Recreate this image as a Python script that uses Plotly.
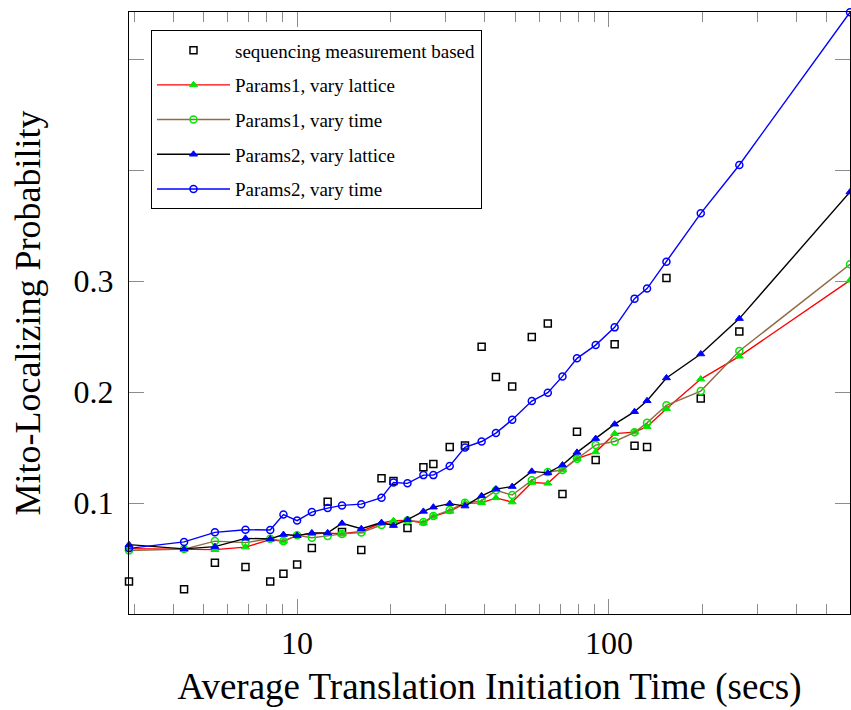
import plotly.graph_objects as go
import math

# Average translation initiation time (secs), shared by all series
init_time = [2.89, 4.34, 5.45, 6.83, 8.20, 9.04, 10.0, 11.15, 12.53, 13.93, 16.06,
             18.65, 20.37, 22.59, 25.41, 27.35, 30.86, 34.54, 39.06, 43.41, 48.95,
             56.57, 63.67, 70.95, 78.98, 90.67, 104.3, 120.8, 132.5, 152.9, 197.0,
             261.9, 593.0]

# Sequencing-measurement based probabilities (no value at the last time)
measured = [0.0294, 0.0222, 0.0463, 0.0423, 0.0294, 0.0363, 0.0447, 0.0596, 0.1013,
            0.0740, 0.0576, 0.1223, 0.1200, 0.0775, 0.1322, 0.1352, 0.1505, 0.1519,
            0.2410, 0.2136, 0.2052, 0.2497, 0.2618, 0.1081, 0.1644, 0.1388, 0.2431,
            0.1516, 0.1505, 0.3028, 0.1942, 0.2546]

params1_lattice = [0.0589, 0.0580, 0.0580, 0.0603, 0.0670, 0.0655, 0.0709, 0.0724,
                   0.0729, 0.0724, 0.0745, 0.0820, 0.0841, 0.0844, 0.0820, 0.0880,
                   0.0925, 0.0997, 0.1002, 0.1047, 0.1009, 0.1185, 0.1178, 0.1298,
                   0.1400, 0.1460, 0.1626, 0.1640, 0.1689, 0.1851, 0.2118, 0.2323,
                   0.3008]

params1_time = [0.0573, 0.0585, 0.0657, 0.0643, 0.0679, 0.0657, 0.0709, 0.0688,
                0.0704, 0.0722, 0.0734, 0.0802, 0.0817, 0.0844, 0.0829, 0.0883,
                0.0937, 0.1002, 0.1020, 0.1115, 0.1072, 0.1205, 0.1280, 0.1298,
                0.1400, 0.1523, 0.1555, 0.1638, 0.1723, 0.1881, 0.2010, 0.2371,
                0.3152]

params2_lattice = [0.0625, 0.0587, 0.0607, 0.0682, 0.0677, 0.0716, 0.0707, 0.0731,
                   0.0731, 0.0817, 0.0769, 0.0824, 0.0797, 0.0851, 0.0925, 0.0963,
                   0.0995, 0.0973, 0.1065, 0.1126, 0.1149, 0.1286, 0.1272, 0.1343,
                   0.1457, 0.1581, 0.1711, 0.1824, 0.1922, 0.2128, 0.2344, 0.2663,
                   0.3804]

params2_time = [0.0592, 0.0650, 0.0736, 0.0760, 0.0757, 0.0896, 0.0842, 0.0919,
                0.0955, 0.0979, 0.0990, 0.1049, 0.1186, 0.1178, 0.1252, 0.1252,
                0.1334, 0.1502, 0.1555, 0.1631, 0.1752, 0.1920, 0.1995, 0.2142,
                0.2305, 0.2424, 0.2584, 0.2843, 0.2934, 0.3175, 0.3612, 0.4048,
                0.5425]

x_major = [10, 100]
x_minor = [3, 4, 5, 6, 7, 8, 9, 20, 30, 40, 50, 60, 70, 80, 90, 200, 300, 400, 500]
y_ticks = [0.1, 0.2, 0.3, 0.4, 0.5]
y_ticktext = ["0.1", "0.2", "0.3", "", ""]

FONT = "Liberation Serif"
GREEN = "#00e600"
BROWN = "#916a46"

fig = go.Figure()

fig.add_trace(go.Scatter(
    x=init_time[:len(measured)], y=measured, mode="markers",
    name="sequencing measurement based", legendgroup="a",
    marker=dict(symbol="square-open", size=7, color="black", line=dict(width=1.5)),
    cliponaxis=False))

fig.add_trace(go.Scatter(
    x=init_time, y=params1_lattice, mode="lines+markers",
    name="Params1, vary lattice", legendgroup="b",
    line=dict(color="#ff0000", width=1.4),
    marker=dict(symbol="triangle-up", size=7, color=GREEN,
                line=dict(color=GREEN, width=1)),
    cliponaxis=False))

fig.add_trace(go.Scatter(
    x=init_time, y=params1_time, mode="lines+markers",
    name="Params1, vary time", legendgroup="c",
    line=dict(color=BROWN, width=1.4),
    marker=dict(symbol="circle-open", size=7, color=GREEN, line=dict(width=1.5)),
    cliponaxis=False))

fig.add_trace(go.Scatter(
    x=init_time, y=params2_lattice, mode="lines+markers",
    name="Params2, vary lattice", legendgroup="d",
    line=dict(color="black", width=1.4),
    marker=dict(symbol="triangle-up", size=7, color="#0000ff",
                line=dict(color="#0000ff", width=1)),
    cliponaxis=False))

fig.add_trace(go.Scatter(
    x=init_time, y=params2_time, mode="lines+markers",
    name="Params2, vary time", legendgroup="e",
    line=dict(color="#0000ff", width=1.4),
    marker=dict(symbol="circle-open", size=7, color="#0000ff", line=dict(width=1.5)),
    cliponaxis=False))

tick_gray = "#8c8c8c"

fig.update_xaxes(
    type="log",
    range=[math.log10(init_time[0]), math.log10(init_time[-1])],
    tickmode="array", tickvals=x_major, ticktext=[str(v) for v in x_major],
    ticks="inside", ticklen=15, tickwidth=1, tickcolor=tick_gray,
    minor=dict(tickmode="array", tickvals=x_minor, ticks="inside",
               ticklen=10, tickwidth=1, tickcolor=tick_gray),
    showline=True, linecolor="black", linewidth=1.3, mirror="ticks",
    showgrid=False, zeroline=False,
    tickfont=dict(family=FONT, size=32, color="black"),
    title=dict(text="Average Translation Initiation Time (secs)",
               font=dict(family=FONT, size=37, color="black"), standoff=13),
)

fig.update_yaxes(
    range=[0, 0.5427],
    tickmode="array", tickvals=y_ticks, ticktext=y_ticktext,
    ticks="inside", ticklen=15, tickwidth=1, tickcolor=tick_gray,
    ticklabelstandoff=8,
    showline=True, linecolor="black", linewidth=1.3, mirror="ticks",
    showgrid=False, zeroline=False,
    tickfont=dict(family=FONT, size=32, color="black"),
    title=dict(text="Mito-Localizing Probability",
               font=dict(family=FONT, size=36, color="black"), standoff=21),
)

fig.update_layout(
    width=851, height=710,
    margin=dict(l=129, r=1, t=12, b=96),
    paper_bgcolor="white", plot_bgcolor="white",
    font=dict(family=FONT, color="black"),
    legend=dict(
        x=0.0305, y=0.9696, xanchor="left", yanchor="top",
        bgcolor="white", bordercolor="black", borderwidth=1,
        font=dict(family=FONT, size=19, color="black"),
        traceorder="grouped", tracegroupgap=7, itemwidth=73,
    ),
    showlegend=True,
)

fig.write_html("out.html")
